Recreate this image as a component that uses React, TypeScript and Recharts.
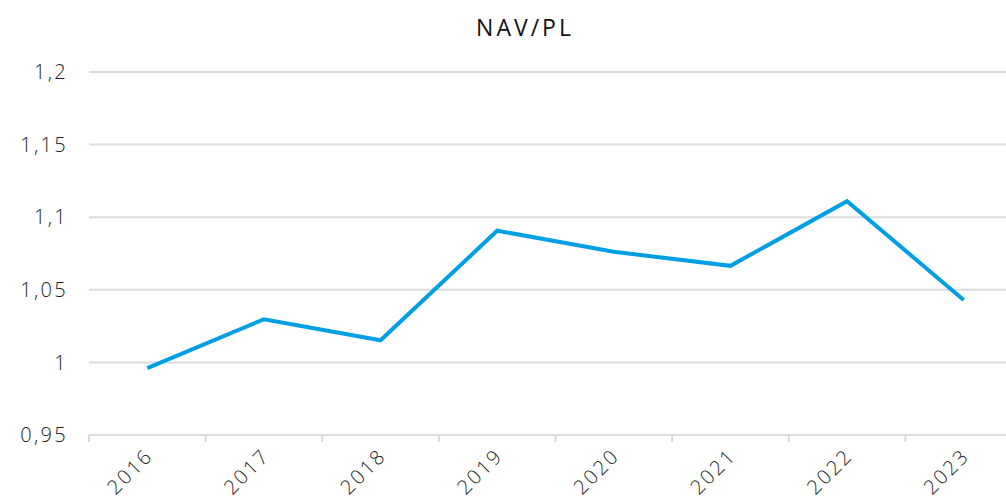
import React from 'react';
import { LineChart, Line, XAxis, YAxis, CartesianGrid } from 'recharts';

const years = ['2016', '2017', '2018', '2019', '2020', '2021', '2022', '2023'];
const navPl = [0.996, 1.0297, 1.0152, 1.0907, 1.0762, 1.0665, 1.111, 1.043];
const yTicks = [0.95, 1, 1.05, 1.1, 1.15, 1.2];

const data = years.map((y, i) => ({ year: y, value: navPl[i] }));

const FONT = "'Open Sans', 'Lato', sans-serif";
const W = 1006;
const CW = 1022;
const H = 500;
const LEFT = 89;
const RIGHT_M = 0;
const BW = (CW - LEFT - RIGHT_M) / years.length;

const XTick = (props: any) => {
  const { x, y, index } = props;
  const left = x - BW / 2;
  const tx = x + 7;
  const ty = y + 14;
  return (
    <g>
      <line x1={left} y1={y - 8} x2={left} y2={y - 1} stroke="#d9d9d9" strokeWidth={2} />
      {index === years.length - 1 && (
        <line x1={x + BW / 2} y1={y - 8} x2={x + BW / 2} y2={y - 1} stroke="#d9d9d9" strokeWidth={2} />
      )}
      <text
        x={tx}
        y={ty}
        textAnchor="end"
        transform={`rotate(-45, ${tx}, ${ty})`}
        fill="#222"
        fontSize={20}
        letterSpacing={2.3}
        fontFamily={FONT}
        fontWeight={300}
      >
        {props.payload.value}
      </text>
    </g>
  );
};

export default function App() {
  return (
    <div style={{ position: 'absolute', left: 0, top: 0, width: W, height: H, background: '#fff', overflow: 'hidden' }}>
      <div
        style={{
          position: 'absolute',
          top: 11,
          left: 0,
          width: W + 44,
          textAlign: 'center',
          fontFamily: FONT,
          fontSize: 23,
          color: '#111',
          letterSpacing: 3,
        }}
      >
        NAV/PL
      </div>
      <LineChart width={CW} height={H} data={data} margin={{ top: 72, right: RIGHT_M, bottom: 0, left: 0 }}>
        <CartesianGrid vertical={false} stroke="#dcdcdc" strokeWidth={2} />
        <XAxis
          dataKey="year"
          height={65}
          padding={{ left: BW / 2, right: BW / 2 }}
          axisLine={{ stroke: '#dcdcdc', strokeWidth: 2 }}
          tickLine={false}
          tick={<XTick />}
          interval={0}
        />
        <YAxis
          domain={[0.95, 1.2]}
          ticks={yTicks}
          width={LEFT}
          axisLine={false}
          tickLine={false}
          tickMargin={15}
          tickFormatter={(v: number) => String(v).replace('.', ',')}
          tick={{ fill: '#222', fontSize: 20, fontFamily: FONT, fontWeight: 300, letterSpacing: 2.3 }}
        />
        <Line
          type="linear"
          dataKey="value"
          stroke="#009FE3"
          strokeWidth={4}
          dot={false}
          isAnimationActive={false}
        />
      </LineChart>
    </div>
  );
}
